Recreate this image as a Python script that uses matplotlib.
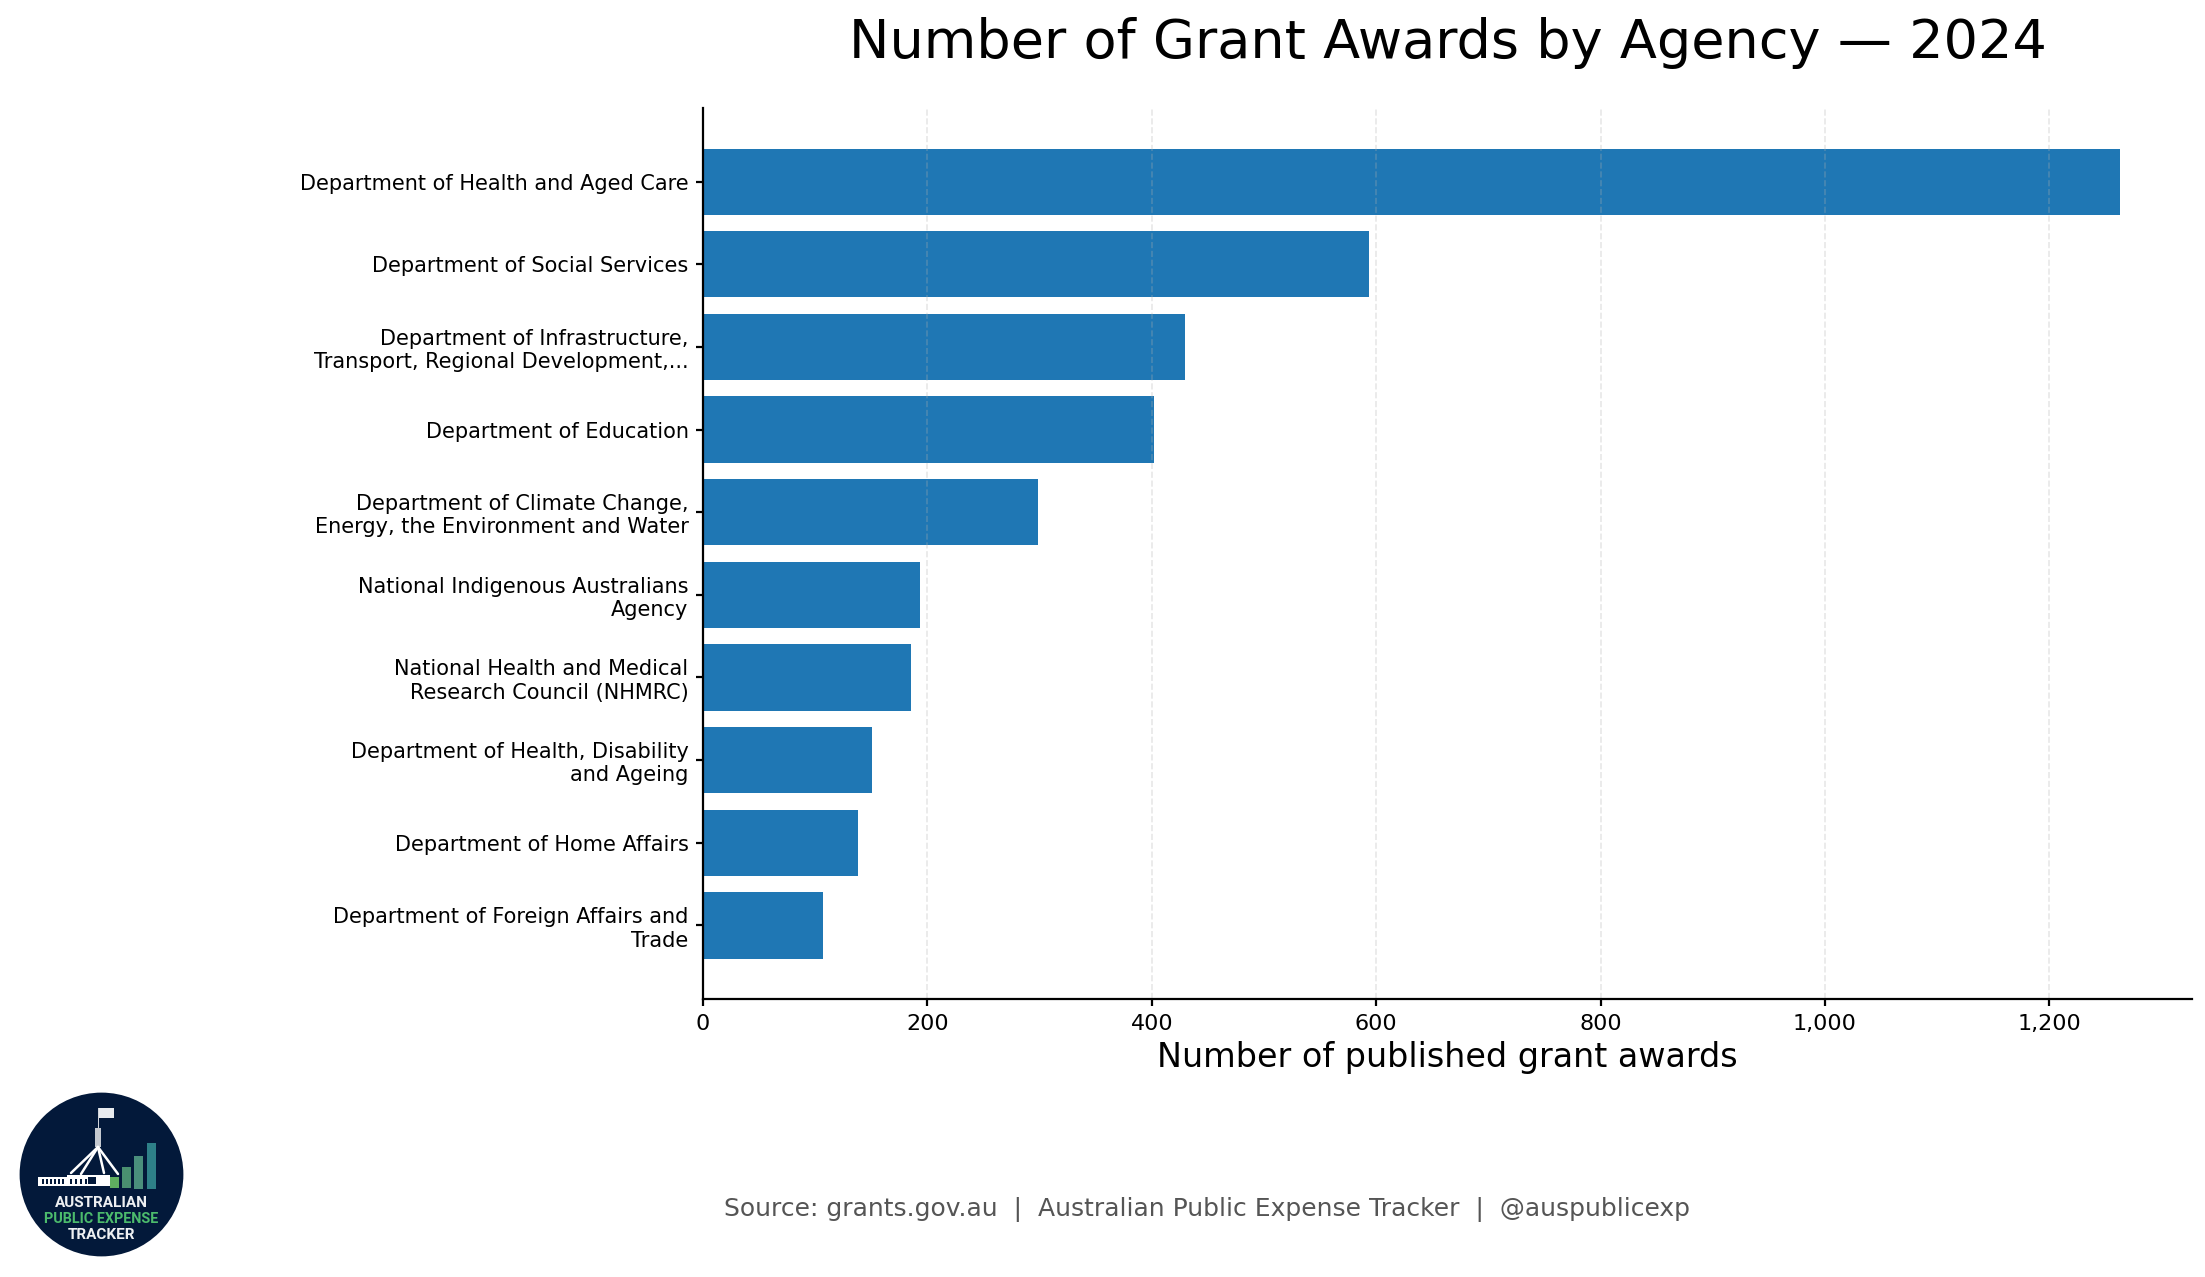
import matplotlib
matplotlib.use("Agg")
import matplotlib.pyplot as plt
from matplotlib.patches import Circle, Rectangle
from matplotlib.ticker import FuncFormatter

agencies = [
    "Department of Health and Aged Care",
    "Department of Social Services",
    "Department of Infrastructure,\nTransport, Regional Development,...",
    "Department of Education",
    "Department of Climate Change,\nEnergy, the Environment and Water",
    "National Indigenous Australians\nAgency",
    "National Health and Medical\nResearch Council (NHMRC)",
    "Department of Health, Disability\nand Ageing",
    "Department of Home Affairs",
    "Department of Foreign Affairs and\nTrade",
]
awards = [1263, 594, 430, 402, 299, 193, 185, 151, 138, 107]
W, H = 2205, 1277
fig = plt.figure(figsize=(W / 200, H / 200), dpi=200)
ax = fig.add_axes([703 / W, 1 - 999 / H, (2192 - 703) / W, (999 - 108) / H])
ypos = list(range(len(agencies)))
ax.barh(ypos, awards, height=0.8, color="#1f77b4")
ax.set_yticks(ypos, agencies, fontsize=7.5)
ax.invert_yaxis()
ax.set_xlim(0, 1327.2)
ax.xaxis.set_major_formatter(FuncFormatter(lambda v, _: f"{int(v):,}"))
ax.tick_params(axis="x", labelsize=8, length=2.5, pad=3)
ax.tick_params(axis="y", length=2.5, pad=2.7)
ax.set_xlabel("Number of published grant awards", fontsize=12, labelpad=2.5)
ax.grid(axis="x", linestyle="--", linewidth=0.6, alpha=0.3)
ax.spines[["top", "right"]].set_visible(False)
ax.set_title("Number of Grant Awards by Agency — 2024", fontsize=19.5, pad=18)
fig.text(1207 / W, 1 - 1209 / H, "Source: grants.gov.au  |  Australian Public Expense Tracker  |  @auspublicexp",
         fontsize=9, color="#555555", ha="center", va="center")

# logo badge
NAVY = "#03193a"
lg = fig.add_axes([0, 0, 210 / W, 197 / H])
lg.set_xlim(0, 210)
lg.set_ylim(197, 0)
lg.axis("off")
lg.add_patch(Circle((101.5, 94.5), 80.5, color=NAVY))
for x, y0, h, c in [(110, 97, 11, "#5fae60"), (122, 87, 21, "#4a9070"), (134, 76, 33, "#4a8f7c"), (147, 63, 46, "#2e8088")]:
    lg.add_patch(Rectangle((x, y0), 9, h, color=c, lw=0))
lg.add_patch(Rectangle((95, 48), 5.5, 19, color="#c4c9d0", lw=0))
lg.add_patch(Rectangle((97.5, 28), 1.5, 20, color="#d0d4da", lw=0))
lg.add_patch(Rectangle((98.5, 28), 15, 10, color="#e8ebef", lw=0))
for xe, ye in [(71, 93), (81, 94), (104, 93), (118, 94)]:
    lg.plot([98, xe], [67, ye], color="white", lw=0.9, solid_capstyle="round")
lg.add_patch(Rectangle((38, 97), 30, 9, color="white", lw=0))
lg.add_patch(Rectangle((67, 95), 43, 11, color="white", lw=0))
for x in list(range(42, 66, 4)) + list(range(70, 88, 5)):
    lg.add_patch(Rectangle((x, 99), 1.8, 5, color=NAVY, lw=0))
lg.add_patch(Rectangle((88, 97), 8, 7, color=NAVY, lw=0))
lg.text(101, 123, "AUSTRALIAN", color="#eef0f2", fontsize=5.5, family="Roboto", weight="bold", ha="center", va="center")
lg.text(101, 139, "PUBLIC EXPENSE", color="#4cbb6c", fontsize=5.2, family="Roboto", weight="bold", ha="center", va="center")
lg.text(101, 155, "TRACKER", color="#eef0f2", fontsize=5.5, family="Roboto", weight="bold", ha="center", va="center")
fig.savefig("out.png", dpi=200)
